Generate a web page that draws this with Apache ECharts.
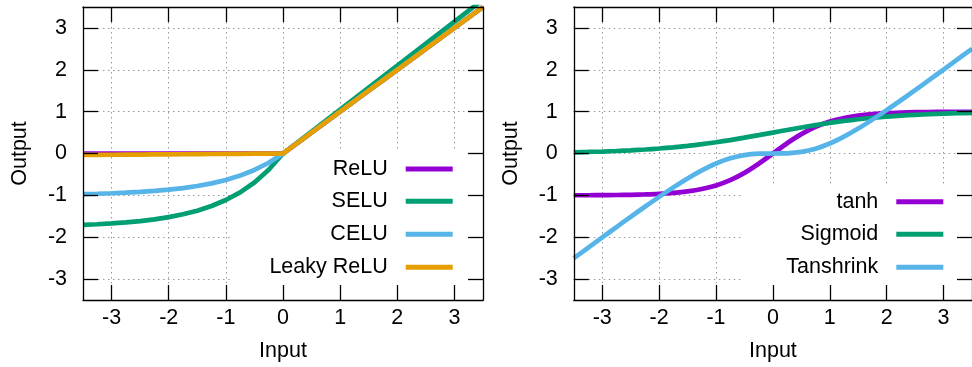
<!DOCTYPE html>
<html><head><meta charset="utf-8">
<script src="https://cdn.jsdelivr.net/npm/echarts@6/dist/echarts.min.js"></script>
<style>html,body{margin:0;padding:0;background:#fff}#c{width:972px;height:367px}</style>
</head><body><div id="c"></div>
<script>
// ---- data ----
const xValues = [-3.5,-3.25,-3,-2.75,-2.5,-2.25,-2,-1.75,-1.5,-1.25,-1,-0.75,-0.5,-0.25,0,0.25,0.5,0.75,1,1.25,1.5,1.75,2,2.25,2.5,2.75,3,3.25,3.5];
const tickValues = [-3,-2,-1,0,1,2,3];
const reluY = [0,0,0,0,0,0,0,0,0,0,0,0,0,0,0,0.25,0.5,0.75,1,1.25,1.5,1.75,2,2.25,2.5,2.75,3,3.25,3.5];
const seluY = [-1.705,-1.690,-1.671,-1.646,-1.614,-1.573,-1.520,-1.453,-1.366,-1.254,-1.111,-0.928,-0.692,-0.389,0,0.263,0.525,0.788,1.051,1.313,1.576,1.839,2.101,2.364,2.627,2.889,3.152,3.415,3.678];
const celuY = [-0.970,-0.961,-0.950,-0.936,-0.918,-0.895,-0.865,-0.826,-0.777,-0.713,-0.632,-0.528,-0.393,-0.221,0,0.25,0.5,0.75,1,1.25,1.5,1.75,2,2.25,2.5,2.75,3,3.25,3.5];
const leakyY = [-0.035,-0.0325,-0.03,-0.0275,-0.025,-0.0225,-0.02,-0.0175,-0.015,-0.0125,-0.01,-0.0075,-0.005,-0.0025,0,0.25,0.5,0.75,1,1.25,1.5,1.75,2,2.25,2.5,2.75,3,3.25,3.5];
const tanhY = [-0.998,-0.997,-0.995,-0.992,-0.987,-0.978,-0.964,-0.941,-0.905,-0.848,-0.762,-0.635,-0.462,-0.245,0,0.245,0.462,0.635,0.762,0.848,0.905,0.941,0.964,0.978,0.987,0.992,0.995,0.997,0.998];
const sigmoidY = [0.029,0.037,0.047,0.060,0.076,0.095,0.119,0.148,0.182,0.223,0.269,0.321,0.378,0.438,0.5,0.562,0.622,0.679,0.731,0.777,0.818,0.852,0.881,0.905,0.924,0.940,0.953,0.963,0.971];
const tanshrinkY = [-2.502,-2.253,-2.005,-1.758,-1.513,-1.272,-1.036,-0.809,-0.595,-0.402,-0.238,-0.115,-0.038,-0.005,0,0.005,0.038,0.115,0.238,0.402,0.595,0.809,1.036,1.272,1.513,1.758,2.005,2.253,2.502];
const leftNames = ['ReLU','SELU','CELU','Leaky ReLU'];
const rightNames = ['tanh','Sigmoid','Tanshrink'];
const xName = 'Input';
const yName = 'Output';

// ---- styling ----
const FONT = 'Liberation Sans, Arial, sans-serif';
const FS = 21.5;
const colors = {ReLU:'#9400d3', SELU:'#009e73', CELU:'#56b4e9', 'Leaky ReLU':'#e69f00', tanh:'#9400d3', Sigmoid:'#009e73', Tanshrink:'#56b4e9'};
const AX_MIN = -3.5, AX_MAX = 3.5;
const grids = [
  {left: 83, top: 7, width: 400, height: 293},
  {left: 573.8, top: 7, width: 400, height: 293}
];
const blk = {color:'#000', width:1.3};
const gridLine = {show:true, lineStyle:{color:'#999', width:1, type:[1.5,3.5]}};

function xAxes(g) {
  const base = {gridIndex:g, type:'value', min:AX_MIN, max:AX_MAX};
  return [
    Object.assign({}, base, {position:'bottom', z:0, axisLine:{show:false}, axisTick:{show:false, customValues:tickValues}, axisLabel:{show:false, customValues:tickValues}, splitLine:gridLine}),
    Object.assign({}, base, {position:'bottom', z:3, axisLine:{show:true, onZero:false, lineStyle:blk}, axisTick:{show:true, inside:true, length:15, customValues:tickValues, lineStyle:blk},
      axisLabel:{show:true, customValues:tickValues, margin:7, fontSize:FS, color:'#000', fontFamily:FONT}, splitLine:{show:false},
      name:xName, nameLocation:'middle', nameGap:40, nameTextStyle:{fontSize:FS, color:'#000', fontFamily:FONT}}),
    Object.assign({}, base, {position:'top', z:3, axisLine:{show:true, onZero:false, lineStyle:blk}, axisTick:{show:true, inside:true, length:15, customValues:tickValues, lineStyle:blk}, axisLabel:{show:false, customValues:tickValues}, splitLine:{show:false}})
  ];
}
function yAxes(g) {
  const base = {gridIndex:g, type:'value', min:AX_MIN, max:AX_MAX};
  return [
    Object.assign({}, base, {position:'left', z:0, axisLine:{show:false}, axisTick:{show:false, customValues:tickValues}, axisLabel:{show:false, customValues:tickValues}, splitLine:gridLine}),
    Object.assign({}, base, {position:'left', z:3, axisLine:{show:true, onZero:false, lineStyle:blk}, axisTick:{show:true, inside:true, length:15, customValues:tickValues, lineStyle:blk},
      axisLabel:{show:true, customValues:tickValues, margin:16, fontSize:FS, color:'#000', fontFamily:FONT}, splitLine:{show:false},
      name:yName, nameLocation:'middle', nameGap:52, nameRotate:90, nameTextStyle:{fontSize:FS, color:'#000', fontFamily:FONT}}),
    Object.assign({}, base, {position:'right', z:3, axisLine:{show:true, onZero:false, lineStyle:blk}, axisTick:{show:true, inside:true, length:15, customValues:tickValues, lineStyle:blk}, axisLabel:{show:false, customValues:tickValues}, splitLine:{show:false}})
  ];
}

function pairs(ys) { return xValues.map((x, i) => [x, ys[i]]); }
function mkSeries(name, ys, g, smooth) {
  return {name, type:'line', xAxisIndex:g*3, yAxisIndex:g*3, data:pairs(ys), symbol:'none', showSymbol:false,
    smooth: smooth ? 0.3 : false, lineStyle:{color:colors[name], width:4.7}, itemStyle:{color:colors[name]}, z:2, clip:true};
}

function mkLegend(name, right, centerY) {
  return {show:true, data:[name], orient:'horizontal', right:right, top:centerY - 12, padding:0, align:'right',
    icon:'rect', itemWidth:47, itemHeight:5, selectedMode:false,
    textStyle:{fontSize:FS, color:'#000', fontFamily:FONT, lineHeight:24, padding:[0,13,0,0]}};
}

const leftRows = [169, 201.3, 234.3, 267.3];
const rightRows = [201.7, 234.3, 267.3];
const legends = [];
leftNames.forEach((n, i) => legends.push(mkLegend(n, 519.3, leftRows[i])));
rightNames.forEach((n, i) => legends.push(mkLegend(n, 28.7, rightRows[i])));

const option = {
  animation:false,
  backgroundColor:'#fff',
  grid: grids.map(g => Object.assign({show:false, containLabel:false}, g)),
  xAxis: [...xAxes(0), ...xAxes(1)],
  yAxis: [...yAxes(0), ...yAxes(1)],
  legend: legends,
  graphic: [
    {type:'rect', z:1, silent:true, shape:{x:232, y:151, width:250, height:148}, style:{fill:'#fff'}},
    {type:'rect', z:1, silent:true, shape:{x:743, y:185, width:240, height:114}, style:{fill:'#fff'}}
  ],
  series: [
    mkSeries('ReLU', reluY, 0, false),
    mkSeries('SELU', seluY, 0, false),
    mkSeries('CELU', celuY, 0, false),
    mkSeries('Leaky ReLU', leakyY, 0, false),
    mkSeries('tanh', tanhY, 1, true),
    mkSeries('Sigmoid', sigmoidY, 1, true),
    mkSeries('Tanshrink', tanshrinkY, 1, true)
  ]
};
const chart = echarts.init(document.getElementById('c'), null, {renderer:'canvas'});
chart.setOption(option);
</script></body></html>
